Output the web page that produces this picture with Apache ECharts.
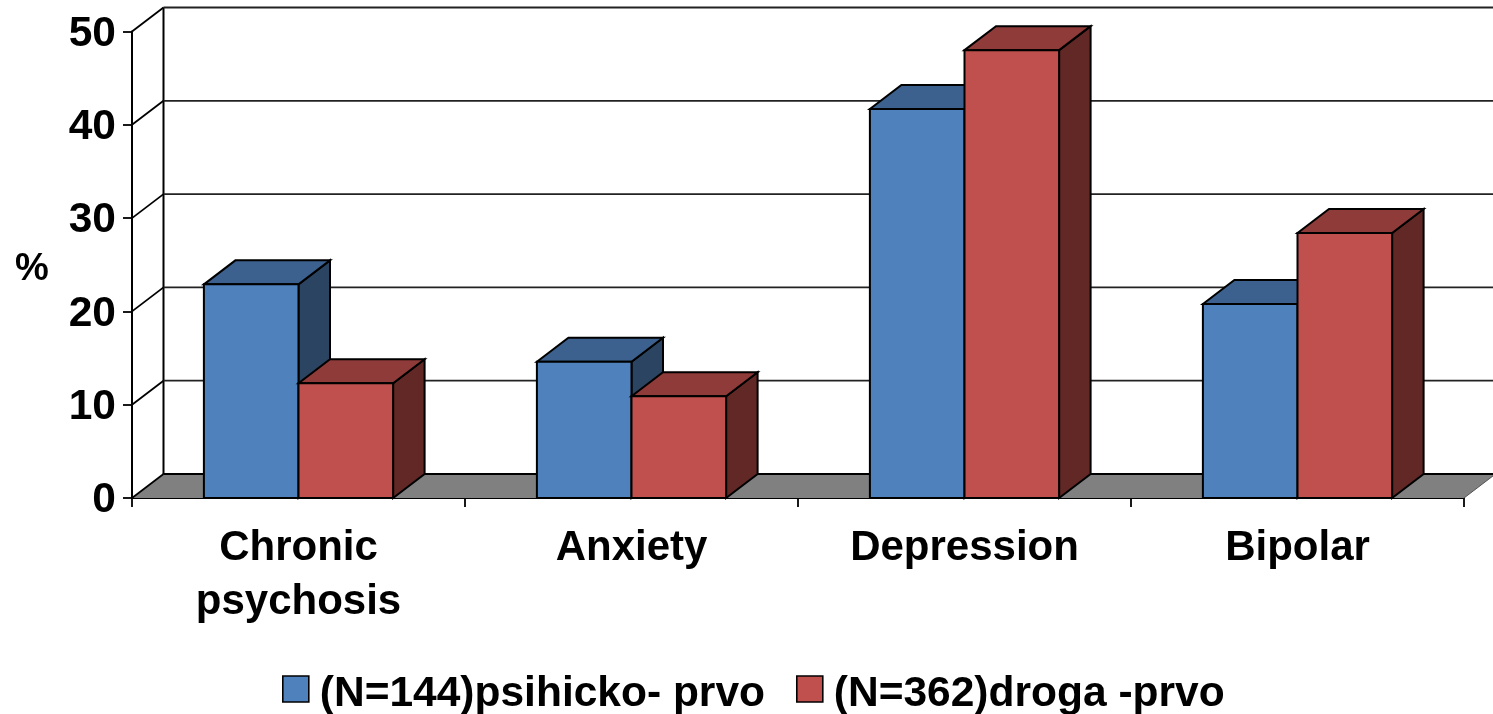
<!DOCTYPE html>
<html><head><meta charset="utf-8">
<style>html,body{margin:0;padding:0;background:#fff}#c{width:1493px;height:714px}</style>
<script src="https://cdn.jsdelivr.net/npm/echarts@6/dist/echarts.min.js"></script>
</head><body><div id="c"></div>
<script>
const categories = ['Chronic\npsychosis', 'Anxiety', 'Depression', 'Bipolar'];
const psihicko = [22.9, 14.6, 41.7, 20.8];
const droga = [12.3, 10.9, 48.0, 28.4];
const yTicks = [0, 10, 20, 30, 40, 50];
const nameA = '(N=144)psihicko- prvo';
const nameB = '(N=362)droga -prvo';
const yUnit = '%';
const DX = 31.5, DY = 24;
const FONT = '"Liberation Sans", Arial, sans-serif';
const OUT = { stroke: '#000', lineWidth: 2, lineJoin: 'miter' };

function barRenderer(pos, front, top, side) {
  return function (params, api) {
    const band = api.size([1, 0])[0];
    const w = band / 3.52;
    const c = api.coord([api.value(0), api.value(1)]);
    const base = api.coord([api.value(0), 0])[1];
    const x0 = c[0] - w + pos * w, x1 = x0 + w, y = c[1];
    const poly = (pts, fill) => ({ type: 'polygon', shape: { points: pts }, style: Object.assign({ fill }, OUT) });
    return { type: 'group', children: [
      poly([[x1, y], [x1 + DX, y - DY], [x1 + DX, base - DY], [x1, base]], side),
      poly([[x0, y], [x0 + DX, y - DY], [x1 + DX, y - DY], [x1, y]], top),
      poly([[x0, y], [x1, y], [x1, base], [x0, base]], front)
    ]};
  };
}

function wallRenderer(params, api) {
  const v = api.value(0);
  const left = api.coord([0, v]);
  const band = api.size([1, 0])[0];
  const x0 = left[0] - band / 2, y = left[1];
  const x1 = x0 + band * categories.length;
  const children = [];
  if (v === 0) {
    children.push({ type: 'polygon', shape: { points: [[x0, y], [x0 + DX, y - DY], [x1 + DX, y - DY], [x1, y]] },
      style: { fill: '#808080', stroke: 'none' } });
    children.push({ type: 'line', shape: { x1: x0 + DX, y1: y - DY, x2: x1 + DX, y2: y - DY }, style: { stroke: '#000', lineWidth: 2.2 } });
    children.push({ type: 'line', shape: { x1: x1, y1: y, x2: x1 + DX, y2: y - DY }, style: { stroke: '#555', lineWidth: 1 } });
    const top = api.coord([0, yTicks[yTicks.length - 1]])[1];
    children.push({ type: 'line', shape: { x1: x0 + DX, y1: y - DY, x2: x0 + DX, y2: top - DY }, style: { stroke: '#000', lineWidth: 2 } });
  } else {
    children.push({ type: 'line', shape: { x1: x0 + DX, y1: y - DY, x2: x1 + DX, y2: y - DY }, style: { stroke: '#222', lineWidth: 1.8 } });
  }
  children.push({ type: 'line', shape: { x1: x0, y1: y, x2: x0 + DX, y2: y - DY }, style: { stroke: '#000', lineWidth: 1.8 } });
  return { type: 'group', children };
}

const chart = echarts.init(document.getElementById('c'), null, { renderer: 'canvas' });
chart.setOption({
  animation: false,
  backgroundColor: '#fff',
  textStyle: { fontFamily: FONT },
  grid: { left: 132, right: 29, top: 31.5, bottom: 216, outerBoundsMode: 'none' },
  graphic: [{ type: 'text', left: 15, top: 251, style: { text: yUnit, fill: '#000', font: 'bold 38px ' + FONT } }],
  legend: {
    left: 277, top: 668, itemWidth: 26, itemHeight: 26, itemGap: 31, icon: 'rect',
    data: [nameA, nameB],
    formatter: '{a|{name}}',
    textStyle: { padding: [0, 0, 0, 6], rich: { a: {
      fontFamily: FONT, fontWeight: 'bold', fontSize: 42.5, color: '#000', lineHeight: 54, verticalAlign: 'bottom'
    } } },
    itemStyle: { borderColor: '#000', borderWidth: 1.6 }
  },
  xAxis: {
    type: 'category', data: categories,
    axisLine: { lineStyle: { color: '#000', width: 2 } },
    axisTick: { show: true, length: 9, lineStyle: { color: '#000', width: 1.8 } },
    axisLabel: { color: '#000', fontFamily: FONT, fontWeight: 'bold', fontSize: 42, lineHeight: 54, margin: 23 }
  },
  yAxis: {
    type: 'value', min: 0, max: 50, interval: 10,
    splitLine: { show: false },
    axisLine: { show: true, lineStyle: { color: '#000', width: 2 } },
    axisTick: { show: true, length: 9, lineStyle: { color: '#000', width: 1.8 } },
    axisLabel: { color: '#000', fontFamily: FONT, fontWeight: 'bold', fontSize: 42.5, margin: 16, verticalAlign: 'top', lineHeight: 5 }
  },
  series: [
    { type: 'custom', name: 'walls', silent: true, z: 1, renderItem: wallRenderer, encode: { y: 0 }, data: yTicks.map(v => [v]) },
    { type: 'custom', name: nameA, z: 3, itemStyle: { color: '#4F81BD' },
      renderItem: barRenderer(0, '#4F81BD', '#3C618E', '#2A4462'), encode: { x: 0, y: 1 },
      data: psihicko.map((v, i) => [i, v]) },
    { type: 'custom', name: nameB, z: 4, itemStyle: { color: '#C0504D' },
      renderItem: barRenderer(1, '#C0504D', '#8E3B39', '#622826'), encode: { x: 0, y: 1 },
      data: droga.map((v, i) => [i, v]) }
  ]
});
</script></body></html>
